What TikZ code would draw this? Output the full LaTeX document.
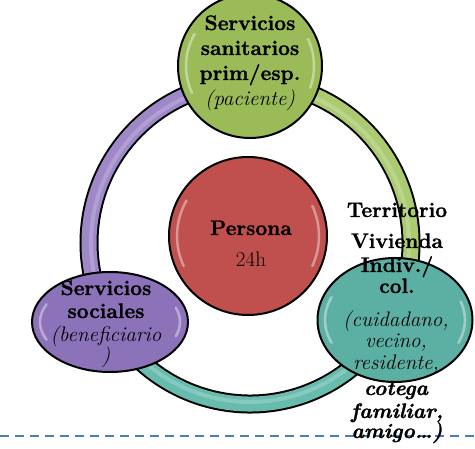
\documentclass[tikz,border=0pt]{standalone}
\usepackage{fontspec}
\setmainfont{Latin Modern Roman}[BoldFeatures={FakeBold=1.2}, BoldItalicFeatures={FakeBold=1.2}]
\usetikzlibrary{shapes.geometric}
\definecolor{cgreen}{RGB}{155,187,89}
\definecolor{cred}{RGB}{192,80,77}
\definecolor{cpurple}{RGB}{140,114,184}
\definecolor{cteal}{RGB}{92,176,163}
\definecolor{bgreen}{RGB}{172,203,112}
\definecolor{bpurple}{RGB}{158,136,200}
\definecolor{bteal}{RGB}{104,188,174}
\definecolor{cdash}{RGB}{74,126,187}
\tikzset{
  blob/.style={draw=black, line width=2pt},
  lbl/.style={anchor=base, inner sep=0pt, font=\fontsize{21}{25}\selectfont},
  bandout/.style={draw=black, line width=19pt},
  gloss/.style={draw=white, line width=2.5pt, line cap=round, opacity=0.4},
}
\begin{document}
\begin{tikzpicture}[x=1pt,y=1pt]
\useasboundingbox (0,0) rectangle (475,449);
% dashed rule
\coordinate (dl) at (0,13);
\coordinate (dr) at (475,13);
\draw[cdash, line width=1.5pt, dash pattern=on 9pt off 6pt] (dl) -- (dr);
% ring
\coordinate (ring) at (250,206);
\draw[bandout] (ring) ++(90:161pt) arc[start angle=90, end angle=209, radius=161pt];
\draw[bandout] (ring) ++(209:161pt) arc[start angle=209, end angle=332, radius=161pt];
\draw[bandout] (ring) ++(-28:161pt) arc[start angle=-28, end angle=90, radius=161pt];
\draw[bpurple, line width=15pt] (ring) ++(90:161pt) arc[start angle=90, end angle=209, radius=161pt];
\draw[bteal, line width=15pt] (ring) ++(209:161pt) arc[start angle=209, end angle=332, radius=161pt];
\draw[bgreen, line width=15pt] (ring) ++(-28:161pt) arc[start angle=-28, end angle=90, radius=161pt];
\draw[white, opacity=0.2, line width=4pt] (ring) ++(95:159pt) arc[start angle=95, end angle=205, radius=159pt];
\draw[white, opacity=0.2, line width=4pt] (ring) ++(213:159pt) arc[start angle=213, end angle=328, radius=159pt];
\draw[white, opacity=0.2, line width=4pt] (ring) ++(-24:159pt) arc[start angle=-24, end angle=86, radius=159pt];
% shapes
\node[blob, circle, fill=cgreen, minimum size=144pt, inner sep=0pt] (san) at (250,383) {};
\node[blob, ellipse, fill=cpurple, minimum width=156pt, minimum height=100pt, inner sep=0pt] (soc) at (110,127) {};
\node[blob, ellipse, fill=cteal, minimum width=155pt, minimum height=124pt, inner sep=0pt] (ter) at (395,129) {};
\node[blob, circle, fill=cred, minimum size=158pt, inner sep=0pt] (per) at (248,213) {};
% gloss
\draw[gloss] (san.center) ++(150:64pt) arc[start angle=150, end angle=205, radius=64pt];
\draw[gloss] (san.center) ++(-20:64pt) arc[start angle=-20, end angle=25, radius=64pt];
\draw[gloss] (per.center) ++(150:71pt) arc[start angle=150, end angle=205, radius=71pt];
\draw[gloss] (per.center) ++(-25:71pt) arc[start angle=-25, end angle=25, radius=71pt];
\draw[gloss] (soc.center) ++(155:70pt and 42pt) arc[start angle=155, end angle=205, x radius=70pt, y radius=42pt];
\draw[gloss] (soc.center) ++(-20:70pt and 42pt) arc[start angle=-20, end angle=20, x radius=70pt, y radius=42pt];
\draw[gloss] (ter.center) ++(155:70pt and 54pt) arc[start angle=155, end angle=205, x radius=70pt, y radius=54pt];
\draw[gloss] (ter.center) ++(-25:70pt and 54pt) arc[start angle=-25, end angle=20, x radius=70pt, y radius=54pt];
% texts: sanitarios
\node[lbl] (s1) at (250,419) {\bfseries Servicios};
\node[lbl] (s2) at (250,394) {\bfseries sanitarios};
\node[lbl] (s3) at (250,369) {\bfseries prim/esp.};
\node[lbl] (s4) at (250,343) {\itshape (paciente)};
% persona
\node[lbl] (p1) at (251,214) {\bfseries Persona};
\node[lbl] (p2) at (251,182) {24h};
% sociales
\node[lbl] (o1) at (106,154) {\bfseries Servicios};
\node[lbl] (o2) at (106,131) {\bfseries sociales};
\node[lbl] (o3) at (106,107) {\itshape (beneficiario};
\node[lbl] (o4) at (106,86) {\itshape )};
% territorio
\node[lbl] (t1) at (397,232) {\bfseries Territorio};
\node[lbl] (t2) at (397,201) {\bfseries Vivienda};
\node[lbl] (t3) at (397,177) {\bfseries Indiv./};
\node[lbl] (t4) at (397,156) {\bfseries col.};
\node[lbl] (t5) at (396,122) {\itshape (cuidadano,};
\node[lbl] (t6) at (396,101) {\itshape vecino,};
\node[lbl] (t7) at (396,79) {\itshape residente,};
\node[lbl] (t8) at (396,54) {\bfseries\itshape cotega};
\node[lbl] (t9) at (397,31) {\bfseries\itshape familiar,};
\node[lbl] (t10) at (397,11) {\bfseries\itshape amigo\ldots)};
\end{tikzpicture}
\end{document}
